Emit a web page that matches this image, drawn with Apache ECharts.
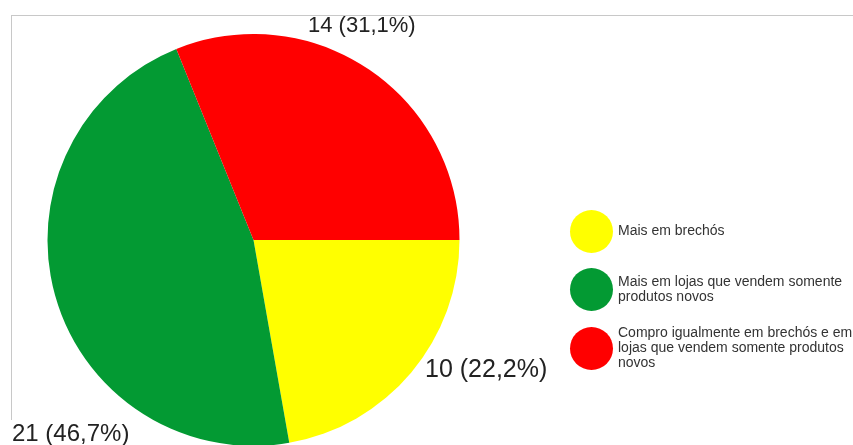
<!DOCTYPE html>
<html>
<head>
<meta charset="utf-8">
<script src="https://cdn.jsdelivr.net/npm/echarts@6/dist/echarts.min.js"></script>
<style>
html,body{margin:0;padding:0;background:#fff;}
#chart{width:853px;height:445px;}
</style>
</head>
<body>
<div id="chart"></div>
<script>
var categories = ['Mais em brechós', 'Mais em lojas que vendem somente produtos novos', 'Compro igualmente em brechós e em lojas que vendem somente produtos novos'];
var legendLabels = ['Mais em brechós', 'Mais em lojas que vendem somente\nprodutos novos', 'Compro igualmente em brechós e em\nlojas que vendem somente produtos\nnovos'];
var values = [10, 21, 14];
var colors = ['#ffff00', '#039a33', '#ff0000'];

var labelPos = [
  {x: 425, y: 370, size: 25},
  {x: 12, y: 434, size: 24},
  {x: 308, y: 26, size: 22}
];

var chart = echarts.init(document.getElementById('chart'), null, {renderer: 'canvas'});
var data = categories.map(function (c, i) {
  return {
    name: c,
    value: values[i],
    itemStyle: {color: colors[i]},
    label: {fontSize: labelPos[i].size}
  };
});

chart.setOption({
  backgroundColor: '#ffffff',
  animation: false,
  graphic: [
    {type: 'line', shape: {x1: 11, y1: 15.5, x2: 853, y2: 15.5}, style: {stroke: '#c8c8c8', lineWidth: 1}},
    {type: 'line', shape: {x1: 11.5, y1: 15, x2: 11.5, y2: 420}, style: {stroke: '#c8c8c8', lineWidth: 1}}
  ],
  legend: {
    orient: 'vertical',
    left: 565,
    top: 205,
    itemWidth: 43,
    itemHeight: 43,
    itemGap: 15,
    icon: 'circle',
    selectedMode: false,
    data: categories,
    formatter: function (name) {
      return legendLabels[categories.indexOf(name)];
    },
    textStyle: {
      fontFamily: 'Liberation Sans, Arial, sans-serif',
      fontSize: 14,
      lineHeight: 15,
      color: '#333333'
    }
  },
  series: [{
    type: 'pie',
    center: [253.5, 240],
    radius: 206,
    startAngle: 0,
    clockwise: true,
    data: data,
    itemStyle: {borderWidth: 0},
    emphasis: {disabled: true},
    labelLine: {show: false},
    label: {
      show: true,
      position: 'inside',
      color: '#222222',
      fontFamily: 'Liberation Sans, Arial, sans-serif',
      formatter: function (p) {
        return p.value + ' (' + p.percent.toFixed(1).replace('.', ',') + '%)';
      }
    },
    labelLayout: function (params) {
      var lp = labelPos[params.dataIndex];
      return {x: lp.x, y: lp.y, align: 'left', verticalAlign: 'middle'};
    }
  }]
});
</script>
</body>
</html>
